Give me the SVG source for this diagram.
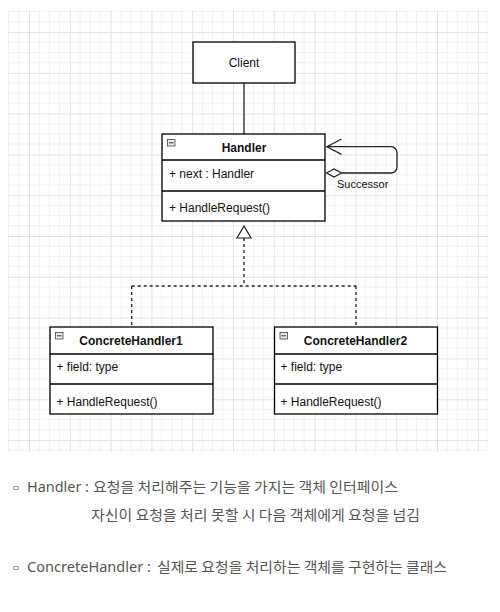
<svg xmlns="http://www.w3.org/2000/svg" width="500" height="612" viewBox="0 0 500 612">
<style>
.box{fill:#ffffff;stroke:#000000;stroke-width:1.3}
.div{stroke:#000000;stroke-width:1.3;fill:none}
.t{font-family:"Liberation Sans",Arial,sans-serif;font-size:12px;fill:#111111}
.b{font-weight:bold;text-anchor:middle}
.c{stroke:#222222;stroke-width:1.3;fill:none}
.icon{fill:#e8e8e8;stroke:#444444;stroke-width:0.8}
.ko{font-family:"Noto Sans CJK KR",sans-serif;font-size:14px;fill:#555555}
.la{font-family:"Noto Sans","Liberation Sans",sans-serif;font-size:15px;fill:#555555}
.bul{font-family:"Noto Sans CJK KR",sans-serif;font-size:8.5px;fill:#555555}
</style>
<defs>
<pattern id="grid" patternUnits="userSpaceOnUse" x="29" y="32" width="40.8" height="40.8">
<path d="M10.2 0V40.8M20.4 0V40.8M30.6 0V40.8M0 10.2H40.8M0 20.4H40.8M0 30.6H40.8" stroke="#f1f1f1" stroke-width="1" fill="none"/>
<path d="M0.5 0V40.8M0 0.5H40.8" stroke="#e2e2e2" stroke-width="1" fill="none"/>
</pattern>
</defs>
<rect x="0" y="0" width="500" height="612" fill="#ffffff"/>
<rect x="8" y="10" width="480" height="442" fill="url(#grid)"/>

<g id="connectors">
<line class="c" x1="244" y1="83" x2="244" y2="134"/>
<path class="c" d="M326.5 146.7H391a6 6 0 0 1 6 6V167a6 6 0 0 1 -6 6H342"/>
<path class="c" d="M341.5 139L327 146.7L341.5 154.4"/>
<path d="M326.5 173L334 169L341.7 173L334 177Z" fill="#ffffff" stroke="#222222" stroke-width="1.2"/>
<text class="t" x="337" y="188" style="font-size:11px">Successor</text>
<path class="c" stroke-dasharray="3 3" d="M244 238V286M131.7 286H356M131.7 286V327M356 286V327"/>
<path d="M244 226L237 238H251Z" fill="#ffffff" stroke="#222222" stroke-width="1.2"/>
</g>

<g id="client">
<rect class="box" x="193" y="42" width="102" height="41"/>
<text class="t" x="244" y="67" text-anchor="middle">Client</text>
</g>

<g id="handler">
<rect class="box" x="162" y="134" width="163" height="87"/>
<line class="div" x1="162" y1="160" x2="325" y2="160"/>
<line class="div" x1="162" y1="191" x2="325" y2="191"/>
<rect class="icon" x="167.5" y="139.5" width="7.5" height="6.5"/>
<line x1="169" y1="142.8" x2="173.5" y2="142.8" stroke="#333333" stroke-width="1"/>
<text class="t b" x="244" y="152">Handler</text>
<text class="t" x="169" y="178">+ next : Handler</text>
<text class="t" x="169" y="212">+ HandleRequest()</text>
</g>

<g id="concretehandler1">
<rect class="box" x="50" y="327" width="163" height="87"/>
<line class="div" x1="50" y1="354" x2="213" y2="354"/>
<line class="div" x1="50" y1="384" x2="213" y2="384"/>
<rect class="icon" x="55.5" y="332.5" width="7.5" height="6.5"/>
<line x1="57" y1="335.8" x2="61.5" y2="335.8" stroke="#333333" stroke-width="1"/>
<text class="t b" x="131" y="345">ConcreteHandler1</text>
<text class="t" x="56.5" y="371">+ field: type</text>
<text class="t" x="56.5" y="406">+ HandleRequest()</text>
</g>

<g id="concretehandler2">
<rect class="box" x="274.5" y="327" width="163" height="87"/>
<line class="div" x1="274.5" y1="354" x2="437.5" y2="354"/>
<line class="div" x1="274.5" y1="384" x2="437.5" y2="384"/>
<rect class="icon" x="280" y="332.5" width="7.5" height="6.5"/>
<line x1="281.5" y1="335.8" x2="286" y2="335.8" stroke="#333333" stroke-width="1"/>
<text class="t b" x="355.5" y="345">ConcreteHandler2</text>
<text class="t" x="280.5" y="371">+ field: type</text>
<text class="t" x="280.5" y="406">+ HandleRequest()</text>
</g>

<g id="description">
<text class="bul" x="12" y="491">ㅁ</text>
<text class="la" x="27" y="492" textLength="62" lengthAdjust="spacingAndGlyphs">Handler :</text>
<text class="ko" x="93" y="492" textLength="305" lengthAdjust="spacingAndGlyphs">요청을 처리해주는 기능을 가지는 객체 인터페이스</text>
<text class="ko" x="91" y="520" textLength="329" lengthAdjust="spacingAndGlyphs">자신이 요청을 처리 못할 시 다음 객체에게 요청을 넘김</text>
<text class="bul" x="12" y="571">ㅁ</text>
<text class="la" x="27" y="572" textLength="124" lengthAdjust="spacingAndGlyphs">ConcreteHandler :</text>
<text class="ko" x="157" y="572" textLength="290" lengthAdjust="spacingAndGlyphs">실제로 요청을 처리하는 객체를 구현하는 클래스</text>
</g>
</svg>
